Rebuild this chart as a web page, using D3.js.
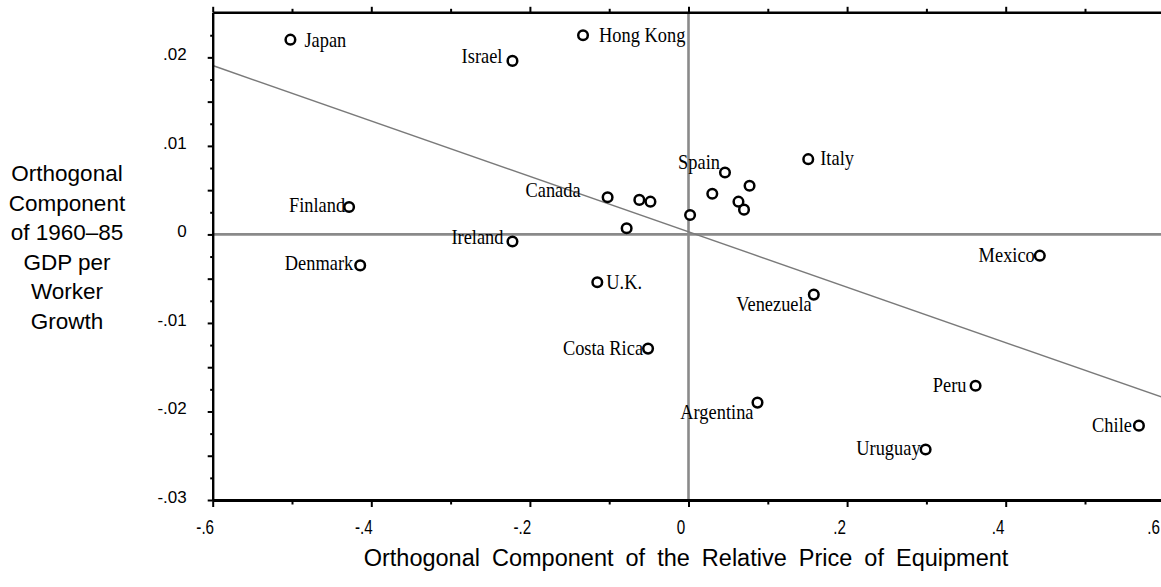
<!DOCTYPE html>
<html>
<head>
<meta charset="utf-8">
<script src="https://cdn.jsdelivr.net/npm/d3@7"></script>
<style>
  html, body { margin: 0; padding: 0; background: #fff; overflow: hidden; }
  svg { display: block; }
</style>
</head>
<body>
<svg id="chart" width="1161" height="587"></svg>
<script>
// Countries (empty name = unlabeled observation)
const countries = [
  "Japan", "Hong Kong", "Israel", "Finland", "Ireland", "Denmark", "U.K.",
  "Costa Rica", "Canada", "", "", "", "Spain", "", "", "", "", "", "Italy",
  "Mexico", "Venezuela", "Peru", "Argentina", "Chile", "Uruguay"
];
// Orthogonal component of the relative price of equipment
const priceComponent = [
  -0.502, -0.133, -0.222, -0.428, -0.222, -0.414, -0.115,
  -0.051, -0.102, -0.062, -0.048, -0.078, 0.046, 0.030, 0.077, 0.063, 0.070, 0.002, 0.151,
  0.443, 0.158, 0.362, 0.087, 0.568, 0.299
];
// Orthogonal component of 1960–85 GDP per worker growth
const growthComponent = [
  0.0220, 0.0225, 0.0196, 0.0031, -0.0008, -0.0035, -0.0054,
  -0.0129, 0.0042, 0.0039, 0.0037, 0.0007, 0.0070, 0.0046, 0.0055, 0.0037, 0.0028, 0.0022, 0.0085,
  -0.0024, -0.0068, -0.0171, -0.0190, -0.0216, -0.0243
];
// Fitted line: growth = intercept + slope * price
const fitIntercept = 0.0003;
const fitSlope = -0.0313;

const xTickValues = [-0.6, -0.4, -0.2, 0, 0.2, 0.4, 0.6];
const xTickLabels = ["-.6", "-.4", "-.2", "0", ".2", ".4", ".6"];
const xMinorTicks = [-0.5, -0.3, -0.1, 0.1, 0.3, 0.5];
const yTickValues = [0.02, 0.01, 0, -0.01, -0.02, -0.03];
const yTickLabels = [".02", ".01", "0", "-.01", "-.02", "-.03"];
const yMidTicks = [0.015, 0.005, -0.005, -0.015, -0.025];
const yMinorTicks = [0.0225, 0.0175, 0.0125, 0.0075, 0.0025, -0.0025, -0.0075, -0.0125, -0.0175, -0.0225, -0.0275];

const xTitle = "Orthogonal Component of the Relative Price of Equipment";
const yTitleLines = ["Orthogonal", "Component", "of 1960\u201385", "GDP per", "Worker", "Growth"];

const svg = d3.select("#chart");
const W = 1161;
const plotLeft = 212.7, plotRight = 1164.3, plotTop = 12.3, plotBottom = 500;

const x = d3.scaleLinear().domain([-0.6, 0.6]).range([plotLeft, plotRight]);
const y = d3.scaleLinear().domain([-0.03, 0.02509]).range([plotBottom, plotTop]);

const gray = "#8a8a8a";

// zero reference lines
svg.append("line")
  .attr("x1", plotLeft).attr("x2", plotRight)
  .attr("y1", y(0)).attr("y2", y(0))
  .attr("stroke", gray).attr("stroke-width", 2.6);
svg.append("line")
  .attr("x1", x(0)).attr("x2", x(0))
  .attr("y1", plotTop).attr("y2", plotBottom)
  .attr("stroke", gray).attr("stroke-width", 2.6);

// fitted regression line
const xd = x.domain();
svg.append("line")
  .attr("x1", x(xd[0])).attr("y1", y(fitIntercept + fitSlope * xd[0]))
  .attr("x2", x(xd[1])).attr("y2", y(fitIntercept + fitSlope * xd[1]))
  .attr("stroke", "#7a7a7a").attr("stroke-width", 1.4);

function styleAxis(g, width) {
  g.selectAll(".domain").attr("stroke", "#000").attr("stroke-width", width);
  g.selectAll(".tick line").attr("stroke", "#000").attr("stroke-width", 2);
}

// bottom axis
const gBottom = svg.append("g").attr("transform", `translate(0,${plotBottom})`)
  .call(d3.axisBottom(x).tickValues(xTickValues)
    .tickFormat((d, i) => xTickLabels[i]).tickSize(7).tickSizeOuter(0));
styleAxis(gBottom, 2.8);
gBottom.selectAll(".tick text")
  .attr("fill", "#000").attr("y", 0).attr("dy", null)
  .attr("font-family", "'Liberation Sans', Arial, sans-serif")
  .attr("font-size", 19.5)
  .attr("transform", "translate(-8,33.5) scale(0.78,1)");
// keep the last label inside the drawing edge
gBottom.selectAll(".tick").each(function (d) {
  const t = d3.select(this).select("text");
  const bb = this.getBoundingClientRect();
  const tb = t.node().getBoundingClientRect();
  if (tb.right > W - 1) {
    t.attr("transform", `translate(${-8 - (tb.right - (W - 1))},33.5) scale(0.78,1)`);
  }
});
svg.append("g").attr("transform", `translate(0,${plotBottom})`)
  .call(d3.axisBottom(x).tickValues(xMinorTicks).tickFormat("").tickSize(4.5).tickSizeOuter(0))
  .call(g => { g.select(".domain").remove(); styleAxis(g, 0); });

// top axis
const gTop = svg.append("g").attr("transform", `translate(0,${plotTop})`)
  .call(d3.axisTop(x).tickValues(xTickValues).tickFormat("").tickSize(5.5).tickSizeOuter(0));
styleAxis(gTop, 2.6);
svg.append("g").attr("transform", `translate(0,${plotTop})`)
  .call(d3.axisTop(x).tickValues(xMinorTicks).tickFormat("").tickSize(3.5).tickSizeOuter(0))
  .call(g => { g.select(".domain").remove(); styleAxis(g, 0); });

// left axis
const gLeft = svg.append("g").attr("transform", `translate(${plotLeft},0)`)
  .call(d3.axisLeft(y).tickValues(yTickValues)
    .tickFormat((d, i) => yTickLabels[i]).tickSize(5).tickSizeOuter(0));
styleAxis(gLeft, 2.4);
gLeft.selectAll(".tick text")
  .attr("fill", "#000").attr("x", -26).attr("dy", null).attr("y", 2.5)
  .attr("font-family", "'Liberation Sans', Arial, sans-serif")
  .attr("font-size", 17);
svg.append("g").attr("transform", `translate(${plotLeft},0)`)
  .call(d3.axisLeft(y).tickValues(yMidTicks).tickFormat("").tickSize(5).tickSizeOuter(0))
  .call(g => { g.select(".domain").remove(); styleAxis(g, 0); });
svg.append("g").attr("transform", `translate(${plotLeft},0)`)
  .call(d3.axisLeft(y).tickValues(yMinorTicks).tickFormat("").tickSize(2.5).tickSizeOuter(0))
  .call(g => { g.select(".domain").remove(); styleAxis(g, 0); });

// observations
const points = countries.map((c, i) => ({ name: c, px: priceComponent[i], gy: growthComponent[i] }));

svg.append("g").selectAll("circle").data(points).join("circle")
  .attr("cx", d => x(d.px)).attr("cy", d => y(d.gy))
  .attr("r", 4.8)
  .attr("fill", "#fff").attr("stroke", "#000").attr("stroke-width", 2.5);

// where each country name sits relative to its marker
const labelPlacement = {
  "Japan":      { anchor: "start", dx: 14,  dy: 1 },
  "Hong Kong":  { anchor: "start", dx: 16,  dy: 0 },
  "Israel":     { anchor: "end",   dx: -10, dy: -4 },
  "Finland":    { anchor: "end",   dx: -4,  dy: -1 },
  "Ireland":    { anchor: "end",   dx: -9,  dy: -4 },
  "Denmark":    { anchor: "end",   dx: -7,  dy: -2 },
  "U.K.":       { anchor: "start", dx: 9,   dy: 0 },
  "Costa Rica": { anchor: "end",   dx: -5,  dy: 0 },
  "Canada":     { anchor: "end",   dx: -27, dy: -7 },
  "Spain":      { anchor: "end",   dx: -5,  dy: -10 },
  "Italy":      { anchor: "start", dx: 12,  dy: -1 },
  "Mexico":     { anchor: "end",   dx: -5,  dy: 0 },
  "Venezuela":  { anchor: "end",   dx: -2,  dy: 10 },
  "Peru":       { anchor: "end",   dx: -9,  dy: 0 },
  "Argentina":  { anchor: "end",   dx: -4,  dy: 10 },
  "Chile":      { anchor: "end",   dx: -7,  dy: 0 },
  "Uruguay":    { anchor: "end",   dx: -5,  dy: -1 }
};

svg.append("g").selectAll("text").data(points.filter(d => d.name)).join("text")
  .attr("transform", d => {
    const p = labelPlacement[d.name];
    return `translate(${x(d.px) + p.dx},${y(d.gy) + p.dy + 6.5}) scale(0.92,1)`;
  })
  .attr("text-anchor", d => labelPlacement[d.name].anchor)
  .attr("font-family", "'Liberation Serif', 'Times New Roman', serif")
  .attr("font-size", 20)
  .attr("fill", "#000")
  .text(d => d.name);

// axis titles
svg.append("text")
  .attr("x", 686).attr("y", 566)
  .attr("text-anchor", "middle")
  .attr("font-family", "'Liberation Sans', Arial, sans-serif")
  .attr("font-size", 23.5)
  .attr("word-spacing", 5.5)
  .attr("fill", "#000")
  .text(xTitle);

svg.append("g").selectAll("text").data(yTitleLines).join("text")
  .attr("x", 67).attr("y", (d, i) => 181 + i * 29.5)
  .attr("text-anchor", "middle")
  .attr("font-family", "'Liberation Sans', Arial, sans-serif")
  .attr("font-size", 22.5)
  .attr("fill", "#000")
  .text(d => d);
</script>
</body>
</html>
